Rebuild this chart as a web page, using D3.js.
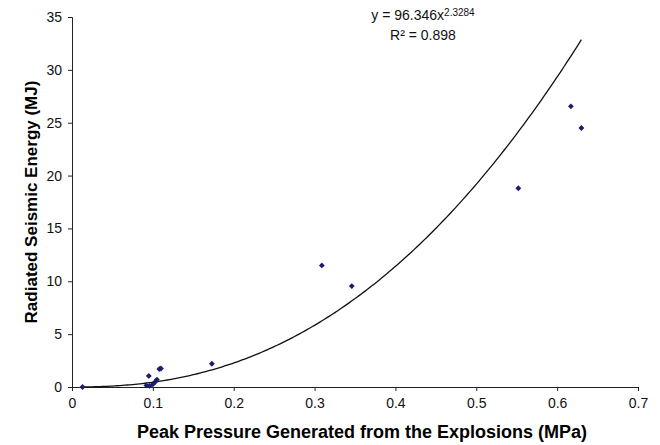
<html>
<head>
<meta charset="utf-8">
<script src="https://d3js.org/d3.v7.min.js"></script>
<style>
  body { margin: 0; background: #fff; }
  text { font-family: "Liberation Sans", Arial, sans-serif; }
</style>
</head>
<body>
<div id="chart"></div>
<script>
// data
const pressure = [0.013, 0.092, 0.096, 0.100, 0.103, 0.105, 0.095, 0.108, 0.110, 0.173, 0.309, 0.346, 0.552, 0.617, 0.630];
const energy   = [0.0,   0.15,  0.10,  0.25,  0.50,  0.70,  1.05,  1.70,  1.75,  2.20,  11.5,  9.55,  18.8,  26.55, 24.5];
const xTicks = [0, 0.1, 0.2, 0.3, 0.4, 0.5, 0.6, 0.7];
const yTicks = [0, 5, 10, 15, 20, 25, 30, 35];
const fitA = 96.346, fitB = 2.3284;

const W = 660, H = 445;
const margin = {top: 17, right: 22, bottom: 58, left: 72};
const width = W - margin.left - margin.right,
      height = H - margin.top - margin.bottom;

const svg = d3.select("#chart").append("svg")
  .attr("width", W).attr("height", H);
const g = svg.append("g")
  .attr("transform", `translate(${margin.left},${margin.top})`);

const x = d3.scaleLinear().domain([0, 0.7]).range([0, width]);
const y = d3.scaleLinear().domain([0, 35]).range([height, 0]);

// axes
const xAxis = g.append("g")
  .attr("transform", `translate(0,${height})`)
  .call(d3.axisBottom(x).tickValues(xTicks).tickFormat(d3.format("")).tickSize(4).tickSizeOuter(4));
const yAxis = g.append("g")
  .call(d3.axisLeft(y).tickValues(yTicks).tickSize(4).tickSizeOuter(4).tickPadding(6));

[xAxis, yAxis].forEach(a => {
  a.selectAll("path, line").attr("stroke", "#222").attr("stroke-width", 1);
  a.selectAll("text").attr("fill", "#111").style("font-size", "14px");
});
xAxis.selectAll("text").attr("dy", "1.0em");

// trendline
const fitX = d3.range(0, 201).map(i => d3.min(pressure) + i * (d3.max(pressure) - d3.min(pressure)) / 200);
g.append("path")
  .datum(fitX)
  .attr("fill", "none")
  .attr("stroke", "#111")
  .attr("stroke-width", 1.3)
  .attr("d", d3.line().x(d => x(d)).y(d => y(fitA * Math.pow(d, fitB))));

// points (square turned 45 degrees)
const marker = d3.symbol().type(d3.symbolSquare).size(17);
g.selectAll(".pt")
  .data(pressure.map((p, i) => ({p: p, e: energy[i]})))
  .join("path")
  .attr("class", "pt")
  .attr("transform", d => `translate(${x(d.p)},${y(d.e)}) rotate(45)`)
  .attr("d", marker)
  .attr("fill", "#1c1c6e");

// titles
svg.append("text")
  .attr("x", 362).attr("y", 438)
  .attr("text-anchor", "middle")
  .style("font-size", "18px").style("font-weight", "bold")
  .text("Peak Pressure Generated from the Explosions (MPa)");

svg.append("text")
  .attr("transform", `translate(37,${margin.top + height / 2}) rotate(-90)`)
  .attr("text-anchor", "middle")
  .style("font-size", "17px").style("font-weight", "bold")
  .text("Radiated Seismic Energy (MJ)");

// equation
const eq = svg.append("text")
  .attr("x", 423).attr("y", 20)
  .attr("text-anchor", "middle")
  .style("font-size", "14px").attr("fill", "#111");
eq.append("tspan").text("y = 96.346x");
eq.append("tspan").attr("dy", "-0.4em").style("font-size", "10px").text("2.3284");

svg.append("text")
  .attr("x", 423).attr("y", 40)
  .attr("text-anchor", "middle")
  .style("font-size", "14px").attr("fill", "#111")
  .text("R² = 0.898");
</script>
</body>
</html>
